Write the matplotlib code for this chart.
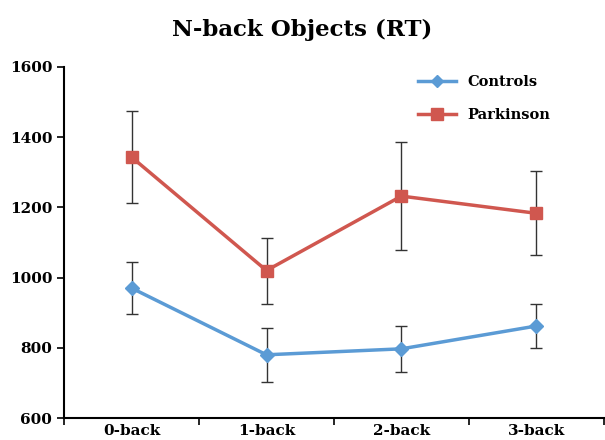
import matplotlib.pyplot as plt
from matplotlib.lines import Line2D
import numpy as np

plt.rcParams['font.family'] = ['DejaVu Serif']

conditions = ["0-back", "1-back", "2-back", "3-back"]
controls_rt = [970, 780, 797, 862]
controls_err = [75, 77, 65, 64]
parkinson_rt = [1343, 1020, 1232, 1183]
parkinson_err = [132, 94, 153, 120]

x = np.arange(len(conditions))

fig = plt.figure(figsize=(6.05, 4.40), dpi=100)
ax = fig.add_axes([0.106, 0.05, 0.892, 0.798])

ax.errorbar(x, controls_rt, yerr=controls_err, color="#5B9BD5", lw=2.5,
            marker="D", ms=7, ecolor="#333333", elinewidth=1, capsize=4,
            capthick=1, label="Controls")
ax.errorbar(x, parkinson_rt, yerr=parkinson_err, color="#D0574F", lw=2.5,
            marker="s", ms=9, ecolor="#333333", elinewidth=1, capsize=4,
            capthick=1, label="Parkinson")

ax.set_xlim(-0.5, 3.5)
ax.set_ylim(600, 1600)
ax.set_yticks(range(600, 1601, 200))
ax.set_xticks(x)
ax.set_xticklabels(conditions)
ax.set_xticks(np.arange(-0.5, 4, 1), minor=True)
ax.tick_params(axis="x", which="major", length=0, pad=4)
ax.tick_params(axis="x", which="minor", length=5, width=1.2)
ax.tick_params(axis="y", length=5, width=1.2)
for lbl in ax.get_xticklabels() + ax.get_yticklabels():
    lbl.set_fontsize(11)
    lbl.set_fontweight("bold")

for side in ("top", "right"):
    ax.spines[side].set_visible(False)
for side in ("left", "bottom"):
    ax.spines[side].set_linewidth(1.5)

# legend: plain line + marker handles, no error bars
handles = [
    Line2D([], [], color="#5B9BD5", lw=2.5, marker="D", ms=6),
    Line2D([], [], color="#D0574F", lw=2.5, marker="s", ms=8),
]
ax.legend(handles, ["Controls", "Parkinson"], loc="upper right",
          bbox_to_anchor=(0.925, 1.015), frameon=False, handlelength=2.6,
          labelspacing=1.3, prop={"weight": "bold", "size": 10.5})

fig.text(0.5, 0.932, "N-back Objects (RT)", ha="center", va="center",
         fontsize=16.5, fontweight="bold")

fig.savefig("out.png", dpi=100)
